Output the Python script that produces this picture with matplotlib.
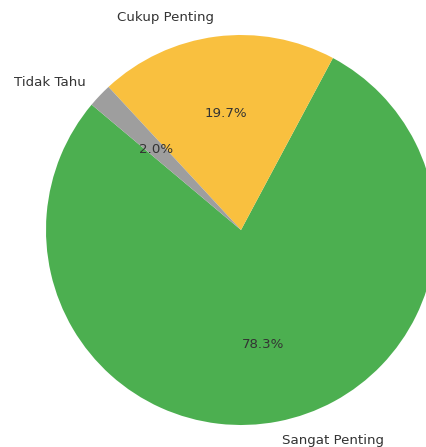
import matplotlib
matplotlib.use("Agg")
import matplotlib.pyplot as plt

labels = ["Sangat Penting", "Cukup Penting", "Tidak Tahu"]
values = [78.3, 19.7, 2.0]
colors = ["#4CAF50", "#F9C03F", "#9E9E9E"]

W, H = 427, 447
cx, cy, r = 241, 230, 195
span = 2.5 * r

fig = plt.figure(figsize=(W / 100, H / 100), dpi=100)
ax = fig.add_axes([(cx - span / 2) / W, (H - cy - span / 2) / H, span / W, span / H])

wedges, texts, autotexts = ax.pie(
    values, labels=labels, colors=colors, autopct="%1.1f%%",
    startangle=140, textprops={"fontsize": 9.6, "color": "#333333"},
)
ax.set_xlim(-1.25, 1.25)
ax.set_ylim(-1.25, 1.25)
ax.set_aspect("equal")

fig.savefig("out.png", dpi=100)
